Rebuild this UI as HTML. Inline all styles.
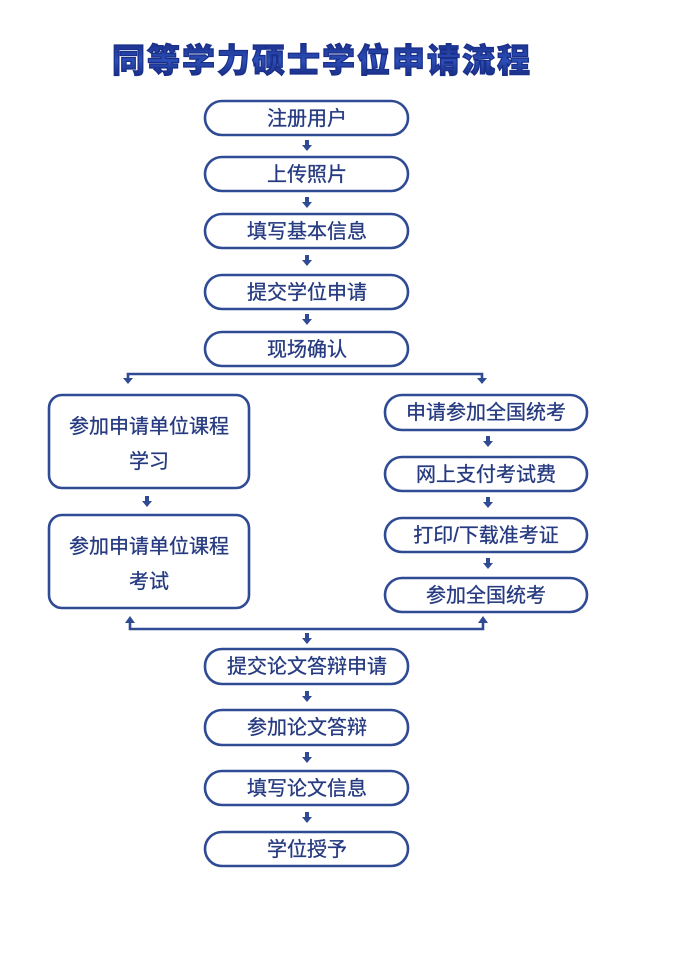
<!DOCTYPE html>
<html><head><meta charset="utf-8"><style>
html,body{margin:0;padding:0;background:#fff;}
svg text{font-family:"Liberation Sans","Noto Sans CJK SC",sans-serif;}
</style></head><body>
<svg width="680" height="951" viewBox="0 0 680 951" xmlns="http://www.w3.org/2000/svg">
<defs>
<linearGradient id="g" x1="0" y1="0" x2="0" y2="1">
<stop offset="0" stop-color="#1a2f8a"/><stop offset="0.5" stop-color="#2c4fb8"/><stop offset="1" stop-color="#15267a"/>
</linearGradient>
</defs>
<text x="322" y="72" text-anchor="middle" font-size="33" font-weight="900" fill="url(#g)" stroke="#1a2f8a" stroke-width="1.2" letter-spacing="2">同等学力硕士学位申请流程</text>
<g fill="none" stroke="#2f4b94" stroke-width="2.6">
<rect x="205" y="101" width="203" height="34" rx="17"/>
<rect x="205" y="157" width="203" height="34" rx="17"/>
<rect x="205" y="214" width="203" height="34" rx="17"/>
<rect x="205" y="275" width="203" height="34" rx="17"/>
<rect x="205" y="332" width="203" height="34" rx="17"/>
<rect x="49" y="395" width="200" height="93" rx="13"/>
<rect x="49" y="515" width="200" height="93" rx="13"/>
<rect x="385" y="395" width="202" height="35" rx="17"/>
<rect x="385" y="457" width="202" height="34" rx="17"/>
<rect x="385" y="518" width="202" height="34" rx="17"/>
<rect x="385" y="578" width="202" height="34" rx="17"/>
<rect x="205" y="649" width="203" height="35" rx="17"/>
<rect x="205" y="710" width="203" height="35" rx="17"/>
<rect x="205" y="771" width="203" height="34" rx="17"/>
<rect x="205" y="832" width="203" height="34" rx="17"/>
<polyline points="128,382 128,374 482,374 482,382"/>
<polyline points="130,619 130,629 483,629 483,619"/>
</g>
<g fill="#2f4b94">
<path d="M305,140h4v5h3l-5,6l-5,-6h3z"/>
<path d="M305,197h4v5h3l-5,6l-5,-6h3z"/>
<path d="M305,255h4v5h3l-5,6l-5,-6h3z"/>
<path d="M305,314h4v5h3l-5,6l-5,-6h3z"/>
<path d="M123,378h10l-5,6z"/>
<path d="M477,378h10l-5,6z"/>
<path d="M145,496h4v5h3l-5,6l-5,-6h3z"/>
<path d="M486,436h4v5h3l-5,6l-5,-6h3z"/>
<path d="M486,497h4v5h3l-5,6l-5,-6h3z"/>
<path d="M486,558h4v5h3l-5,6l-5,-6h3z"/>
<path d="M125,623h10l-5,-7z"/>
<path d="M478,623h10l-5,-7z"/>
<path d="M305,633h4v5h3l-5,6l-5,-6h3z"/>
<path d="M305,691h4v5h3l-5,6l-5,-6h3z"/>
<path d="M305,752h4v5h3l-5,6l-5,-6h3z"/>
<path d="M305,812h4v5h3l-5,6l-5,-6h3z"/>
</g>
<g font-size="20" fill="#263a80" stroke="#263a80" stroke-width="0.3" text-anchor="middle">
<text x="307" y="125">注册用户</text>
<text x="307" y="181">上传照片</text>
<text x="307" y="238">填写基本信息</text>
<text x="307" y="299">提交学位申请</text>
<text x="307" y="356">现场确认</text>
<text x="149" y="433">参加申请单位课程</text>
<text x="149" y="468">学习</text>
<text x="149" y="553">参加申请单位课程</text>
<text x="149" y="588">考试</text>
<text x="486" y="419">申请参加全国统考</text>
<text x="486" y="481">网上支付考试费</text>
<text x="486" y="542">打印/下载准考证</text>
<text x="486" y="602">参加全国统考</text>
<text x="307" y="673">提交论文答辩申请</text>
<text x="307" y="734">参加论文答辩</text>
<text x="307" y="795">填写论文信息</text>
<text x="307" y="856">学位授予</text>
</g>
</svg>
</body></html>
